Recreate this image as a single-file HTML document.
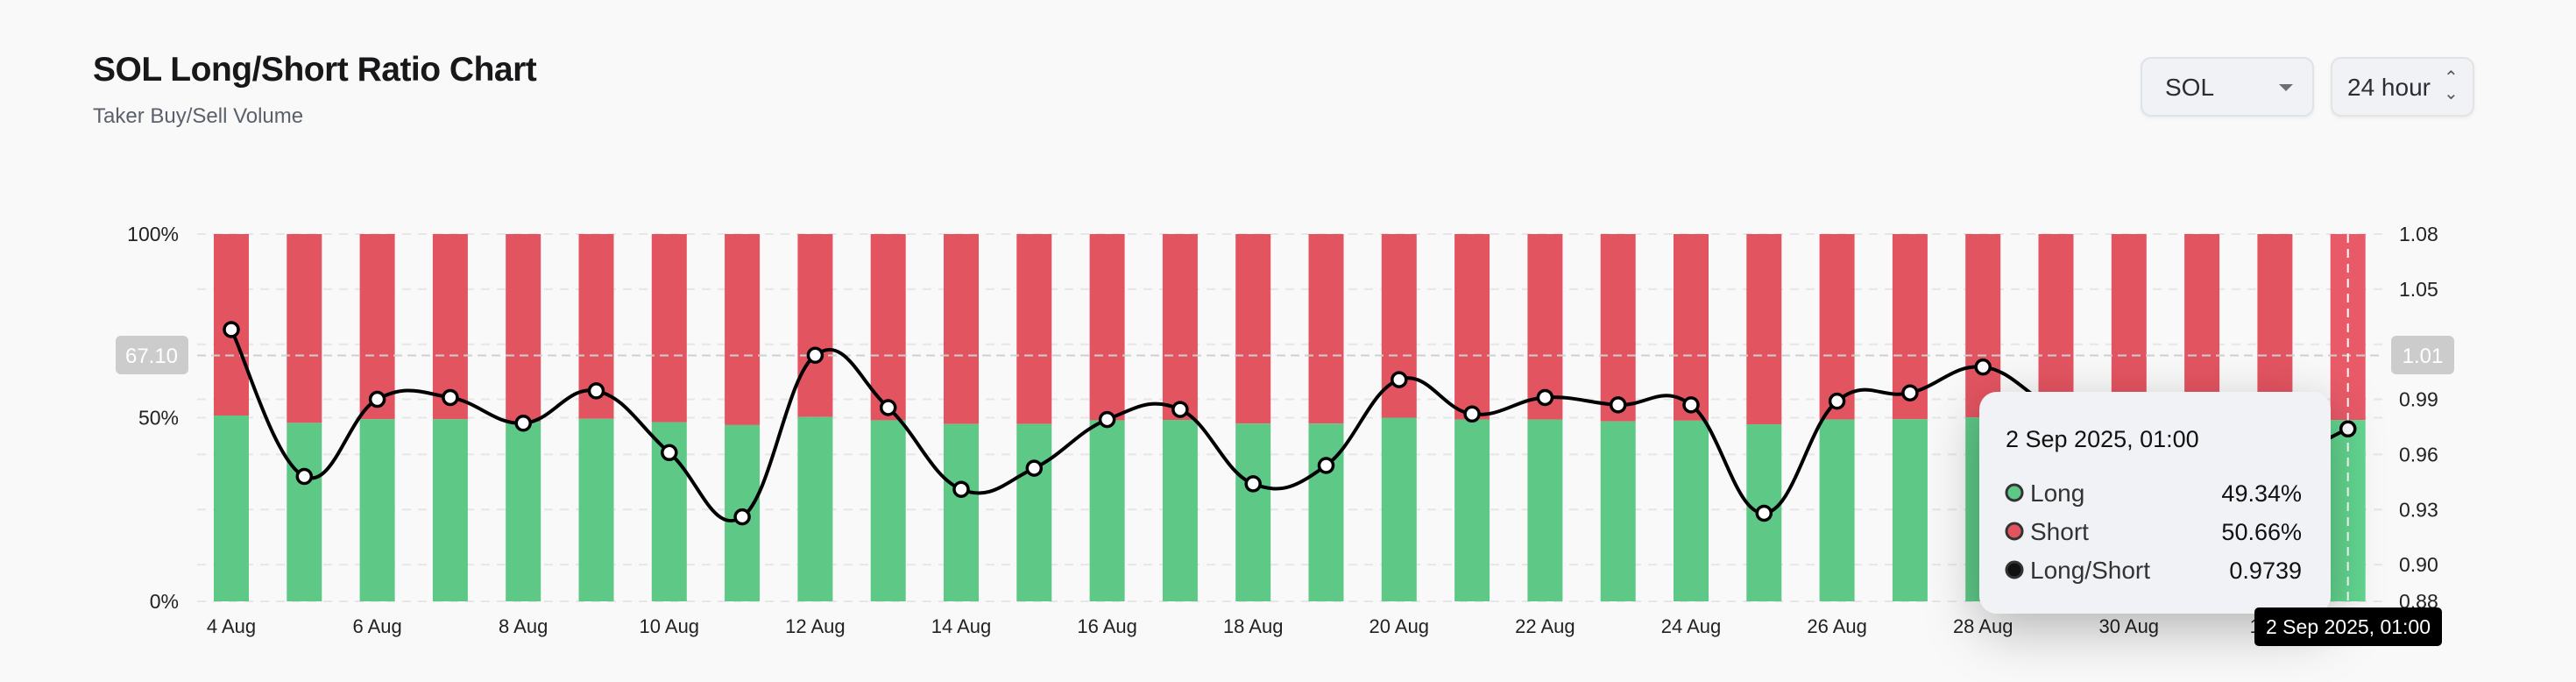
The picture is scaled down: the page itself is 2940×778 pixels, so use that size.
<!DOCTYPE html>
<html><head><meta charset="utf-8">
<style>
html,body{margin:0;padding:0;background:#f9f9f9;width:2940px;height:778px;overflow:hidden;font-family:"Liberation Sans",sans-serif;}
.title{position:absolute;left:106px;top:58px;font-size:39px;font-weight:bold;color:#18181b;letter-spacing:-0.5px;}
.sub{position:absolute;left:106px;top:119px;font-size:24px;color:#5b616b;}
.sel{position:absolute;top:65px;height:68px;box-sizing:border-box;border:2px solid #dde3ea;border-radius:12px;background:#f0f2f5;box-shadow:0 2px 4px rgba(0,0,0,0.06);font-size:28px;color:#2a2d33;}
</style></head><body>
<div class="title">SOL Long/Short Ratio Chart</div>
<div class="sub">Taker Buy/Sell Volume</div>
<div class="sel" style="left:2443px;width:198px;">
 <span style="position:absolute;left:26px;top:17px;">SOL</span>
 <span style="position:absolute;left:156px;top:29px;width:0;height:0;border-left:8px solid transparent;border-right:8px solid transparent;border-top:8px solid #6b7078;"></span>
</div>
<div class="sel" style="left:2660px;width:164px;border-color:#e3e3e3;">
 <span style="position:absolute;left:17px;top:17px;">24 hour</span>
 <span style="position:absolute;left:127px;top:13px;font-size:20px;line-height:18px;color:#555;">&#8963;<br>&#8964;</span>
</div>
<svg id="chart" width="2940" height="778" style="position:absolute;left:0;top:0;">
<defs><filter id="sh" x="-30%" y="-30%" width="160%" height="180%"><feDropShadow dx="0" dy="18" stdDeviation="30" flood-color="#000" flood-opacity="0.28"/></filter></defs>
<g id="grid"></g><g id="bars"></g><g id="line"></g><g id="axes"></g><g id="over"></g>
</svg>
<script>
const categories=["4 Aug","5 Aug","6 Aug","7 Aug","8 Aug","9 Aug","10 Aug","11 Aug","12 Aug","13 Aug","14 Aug","15 Aug","16 Aug","17 Aug","18 Aug","19 Aug","20 Aug","21 Aug","22 Aug","23 Aug","24 Aug","25 Aug","26 Aug","27 Aug","28 Aug","29 Aug","30 Aug","31 Aug","1 Sep","2 Sep"];
const longPct=[50.6,48.6,49.6,49.6,48.9,49.7,48.8,48.0,50.2,49.3,48.3,48.3,49.3,49.4,48.4,48.4,50.0,49.5,49.5,49.0,49.2,48.2,49.5,49.6,50.1,49.6,49.4,49.3,49.0,49.34];
const ratio=[1.028,0.948,0.990,0.991,0.977,0.9946,0.961,0.926,1.014,0.9855,0.941,0.9525,0.979,0.9845,0.944,0.954,1.0007,0.982,0.991,0.987,0.987,0.928,0.989,0.9935,1.0076,0.985,0.975,0.965,0.958,0.9739];
const leftTicks=["0%","50%","100%"];
const leftTickVals=[0,50,100];
const rightTicks=[1.08,1.05,0.99,0.96,0.93,0.90,0.88];
const gridVals=[1.08,1.05,1.02,0.99,0.96,0.93,0.90,0.88];
const xLabelIdx=[0,2,4,6,8,10,12,14,16,18,20,22,24,26,28];

const NS="http://www.w3.org/2000/svg";
const TOP=267,BOT=686,X0=264,STEP=83.3,BW=40;
const yL=v=>BOT-(v/100)*(BOT-TOP);
const yR=v=>TOP+(1.08-v)/(1.08-0.88)*(BOT-TOP);
const xC=i=>X0+i*STEP;
function mk(tag,parent,attrs){const e=document.createElementNS(NS,tag);for(const k in attrs)e.setAttribute(k,attrs[k]);document.getElementById(parent).appendChild(e);return e;}

gridVals.forEach(v=>{const g=mk('line','grid',{x1:225,x2:2720,y1:yR(v),y2:yR(v),stroke:'#e6e6e6','stroke-width':2,'stroke-dasharray':'10 8'});

});
{const g=mk('line','grid',{x1:225,x2:2720,y1:yL(50),y2:yL(50),stroke:'#e6e6e6','stroke-width':2,'stroke-dasharray':'10 8'});

}

categories.forEach((c,i)=>{
 const x=xC(i)-BW/2,last=i===categories.length-1;
 const r=mk('rect','bars',{x:x,y:TOP,width:BW,height:yL(longPct[i])-TOP,fill:last?'#e95a68':'#e35461'});
 
 
 const g=mk('rect','bars',{x:x,y:yL(longPct[i]),width:BW,height:BOT-yL(longPct[i]),fill:last?'#63d690':'#5ec987'});
 
 
});

{const l=mk('line','line',{x1:225,x2:2720,y1:405.5,y2:405.5,stroke:'#cfcfcf','stroke-width':2,'stroke-dasharray':'10 6'});

}

const pts=ratio.map((v,i)=>[xC(i),yR(v)]);
let d=`M${pts[0][0]},${pts[0][1]}`;
for(let i=0;i<pts.length-1;i++){const p0=pts[i-1]||pts[i],p1=pts[i],p2=pts[i+1],p3=pts[i+2]||p2;const t=0.2;
 d+=` C${p1[0]+(p2[0]-p0[0])*t},${p1[1]+(p2[1]-p0[1])*t} ${p2[0]-(p3[0]-p1[0])*t},${p2[1]-(p3[1]-p1[1])*t} ${p2[0]},${p2[1]}`;}
{const p=mk('path','line',{d:d,fill:'none',stroke:'#000','stroke-width':4});

}
pts.forEach(p=>{const c=mk('circle','line',{cx:p[0],cy:p[1],r:8,fill:'#fff',stroke:'#000','stroke-width':3.5});

});

function txt(parent,x,y,s,attrs){const t=mk('text',parent,Object.assign({x:x,y:y,'font-family':'Liberation Sans, sans-serif'},attrs));t.textContent=s;return t;}
leftTicks.forEach((s,i)=>{const t=txt('axes',204,yL(leftTickVals[i])+8,s,{'font-size':23,'text-anchor':'end',fill:'#222'});

});
rightTicks.forEach(v=>{const t=txt('axes',2738,yR(v)+8,v.toFixed(2),{'font-size':23,fill:'#222'});

});
xLabelIdx.forEach(i=>{const t=txt('axes',xC(i),722,categories[i],{'font-size':22,'text-anchor':'middle',fill:'#222'});

});

{const b=mk('rect','over',{x:132,y:383,width:83,height:44,rx:6,fill:'#cccccc'});


const t=txt('over',173,414,'67.10',{'font-size':24,'text-anchor':'middle',fill:'#fff'});


const b2=mk('rect','over',{x:2729,y:383,width:72,height:44,rx:6,fill:'#cccccc'});


const t2=txt('over',2765,414,'1.01',{'font-size':24,'text-anchor':'middle',fill:'#fff'});

}

const hi=categories.length-1;
{const l=mk('line','over',{x1:xC(hi),x2:xC(hi),y1:TOP,y2:BOT,stroke:'#fff','stroke-width':2,'stroke-dasharray':'10 7'});


const c=mk('circle','over',{cx:xC(hi),cy:yR(ratio[hi]),r:8,fill:'#fff',stroke:'#000','stroke-width':3.5});

}

{const g=mk('rect','over',{x:2259,y:447,width:401,height:253,rx:20,fill:'#f1f2f6',filter:'url(#sh)'});


const t=txt('over',2289,510,'2 Sep 2025, 01:00',{'font-size':27,fill:'#111'});


const rows=[['Long',longPct[hi].toFixed(2)+'%','#5ec987'],['Short',(100-longPct[hi]).toFixed(2)+'%','#e35461'],['Long/Short',ratio[hi].toFixed(4),'#111']];
rows.forEach((r,k)=>{const y=562+k*44;
 const c=mk('circle','over',{cx:2299,cy:y,r:9,fill:r[2],stroke:'#333','stroke-width':3});
 
 
 const a=txt('over',2317,y+10,r[0],{'font-size':28,fill:'#333'});
 
 
 const b=txt('over',2627,y+10,r[1],{'font-size':27,'text-anchor':'end',fill:'#111'});
 
 });
const bx=mk('rect','over',{x:2573,y:693,width:214,height:44,rx:5,fill:'#000'});


const bt=txt('over',2680,723,'2 Sep 2025, 01:00',{'font-size':23,'text-anchor':'middle',fill:'#fff'});

}
</script>
</body></html>
